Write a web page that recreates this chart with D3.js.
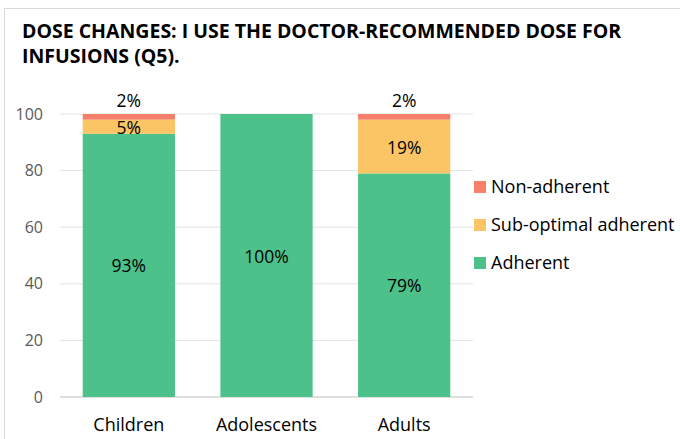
<!DOCTYPE html>
<html>
<head>
<meta charset="utf-8">
<script src="https://cdn.jsdelivr.net/npm/d3@7"></script>
<style>
  body { margin: 0; background: #fff; }
  text { font-family: "Open Sans", sans-serif; }
</style>
</head>
<body>
<script>
var categories = ["Children", "Adolescents", "Adults"];
var adherent = [93, 100, 79];
var subOptimal = [5, 0, 19];
var nonAdherent = [2, 0, 2];
var seriesNames = ["Adherent", "Sub-optimal adherent", "Non-adherent"];
var yTicks = [0, 20, 40, 60, 80, 100];

var colors = { "Adherent": "#4cc28a", "Sub-optimal adherent": "#fbc465", "Non-adherent": "#f4806b" };

var width = 680, height = 439;
var margin = { left: 60, right: 207, top: 114, bottom: 42 };

var svg = d3.select("body").append("svg").attr("width", width).attr("height", height);

// outer frame
svg.append("rect")
  .attr("x", 4.5).attr("y", 8.5)
  .attr("width", 690).attr("height", 450)
  .attr("fill", "none").attr("stroke", "#d9d9d9");

// title
var title = svg.append("text")
  .attr("x", 22).attr("y", 38)
  .attr("font-size", 19.5).attr("font-weight", "bold").attr("fill", "#000");
title.append("tspan").attr("x", 22).attr("dy", 0).text("DOSE CHANGES: I USE THE DOCTOR-RECOMMENDED DOSE FOR");
title.append("tspan").attr("x", 22).attr("dy", 25).text("INFUSIONS (Q5).");

var table = categories.map(function(c, i) {
  return { cat: c, "Adherent": adherent[i], "Sub-optimal adherent": subOptimal[i], "Non-adherent": nonAdherent[i] };
});
var stack = d3.stack().keys(seriesNames)(table);

var x = d3.scaleBand().domain(categories)
  .range([margin.left, width - margin.right]).paddingInner(0.33).paddingOuter(0.165);
var y = d3.scaleLinear().domain([0, 100]).range([height - margin.bottom, margin.top]);

// gridlines
svg.append("g").selectAll("line").data(yTicks).enter().append("line")
  .attr("x1", margin.left).attr("x2", width - margin.right)
  .attr("y1", function(d) { return y(d); }).attr("y2", function(d) { return y(d); })
  .attr("stroke", function(d) { return d === 0 ? "#bfbfbf" : "#e3e3e3"; })
  .attr("stroke-width", 1);

// y axis labels
svg.append("g").selectAll("text").data(yTicks).enter().append("text")
  .attr("x", 43).attr("y", function(d) { return y(d); })
  .attr("dy", "0.35em").attr("text-anchor", "end")
  .attr("font-size", 16).attr("fill", "#595959")
  .text(function(d) { return d; });

// bars
var layers = svg.append("g").selectAll("g").data(stack).enter().append("g")
  .attr("fill", function(d) { return colors[d.key]; });

layers.selectAll("rect").data(function(d) { return d; }).enter().append("rect")
  .attr("x", function(d) { return x(d.data.cat); })
  .attr("width", x.bandwidth())
  .attr("y", function(d) { return y(d[1]); })
  .attr("height", function(d) { return y(d[0]) - y(d[1]); });

// data labels
layers.each(function(layer) {
  d3.select(this).selectAll("text.lbl").data(layer.filter(function(d) { return d[1] - d[0] > 0; }))
    .enter().append("text")
    .attr("class", "lbl")
    .attr("x", function(d) { return x(d.data.cat) + x.bandwidth() / 2; })
    .attr("y", function(d) {
      if (layer.key === "Non-adherent") return y(d[1]) - 7;
      return y((d[0] + d[1]) / 2) + 7;
    })
    .attr("text-anchor", "middle")
    .attr("font-size", 17.5).attr("fill", "#000")
    .text(function(d) { return (d[1] - d[0]) + "%"; });
});

// x axis labels
svg.append("g").selectAll("text").data(categories).enter().append("text")
  .attr("x", function(d) { return x(d) + x.bandwidth() / 2; })
  .attr("y", 431)
  .attr("text-anchor", "middle")
  .attr("font-size", 18).attr("fill", "#000")
  .text(function(d) { return d; });

// legend
var legendOrder = ["Non-adherent", "Sub-optimal adherent", "Adherent"];
var legend = svg.append("g").selectAll("g").data(legendOrder).enter().append("g")
  .attr("transform", function(d, i) { return "translate(474," + (181 + i * 38) + ")"; });
legend.append("rect").attr("width", 12).attr("height", 12)
  .attr("fill", function(d) { return colors[d]; });
legend.append("text").attr("x", 17).attr("y", 6).attr("dy", "0.35em")
  .attr("font-size", 18).attr("fill", "#000")
  .text(function(d) { return d; });
</script>
</body>
</html>
